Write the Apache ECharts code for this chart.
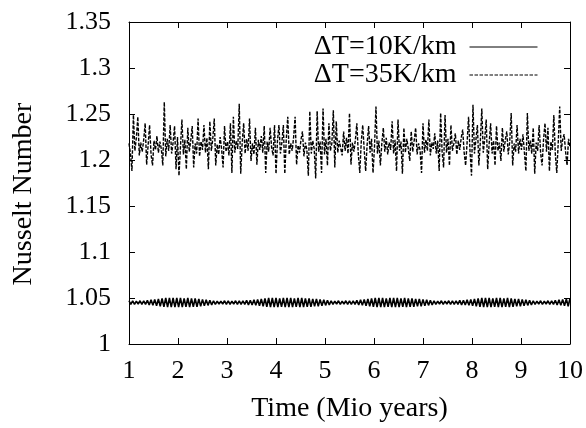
<!DOCTYPE html>
<html>
<head>
<meta charset="utf-8">
<style>
  html, body { margin: 0; padding: 0; background: #fff; }
  #chart { width: 586px; height: 428px; }
</style>
<script src="https://cdn.jsdelivr.net/npm/echarts@6/dist/echarts.min.js"></script>
</head>
<body>
<div id="chart"></div>
<script>
// time axis (Mio years), both runs sampled evenly from 1 to 10
const timeStart = 1
const timeEnd = 10

const seriesNames = ['ΔT=10K/km', 'ΔT=35K/km']

// Nusselt number, dT = 10 K/km (regular oscillation, beating amplitude)
const nu10 = [
  1.047,1.043,1.047,1.043,1.0465,1.0435,1.047,1.043,1.047,1.043,1.0475,1.0425,1.048,1.042,1.0485,1.0415,
  1.049,1.041,1.0495,1.0405,1.05,1.04,1.05,1.04,1.05,1.04,1.05,1.04,1.05,1.04,1.0495,1.0405,
  1.05,1.04,1.0495,1.0405,1.0495,1.0405,1.049,1.041,1.0485,1.0415,1.048,1.042,1.0475,1.0425,1.047,1.043,
  1.0465,1.0435,1.0465,1.0435,1.047,1.043,1.047,1.043,1.0465,1.0435,1.047,1.043,1.047,1.043,1.047,1.043,
  1.0475,1.0425,1.0475,1.0425,1.048,1.042,1.0485,1.0415,1.049,1.041,1.0495,1.0405,1.05,1.04,1.05,1.04,
  1.05,1.04,1.0495,1.0405,1.05,1.04,1.05,1.04,1.05,1.04,1.0495,1.0405,1.05,1.04,1.05,1.04,
  1.0495,1.0405,1.0495,1.0405,1.049,1.041,1.049,1.041,1.0485,1.0415,1.048,1.042,1.0475,1.0425,1.047,1.043,
  1.0465,1.0435,1.047,1.043,1.0465,1.0435,1.047,1.043,1.047,1.043,1.047,1.043,1.0475,1.0425,1.048,1.042,
  1.0485,1.0415,1.049,1.041,1.0495,1.0405,1.05,1.04,1.05,1.04,1.05,1.04,1.0495,1.0405,1.05,1.04,
  1.05,1.04,1.05,1.04,1.0495,1.0405,1.05,1.04,1.0495,1.0405,1.0495,1.0405,1.049,1.041,1.049,1.041,
  1.0485,1.0415,1.048,1.042,1.0475,1.0425,1.047,1.043,1.0465,1.0435,1.047,1.043,1.0465,1.0435,1.047,1.043,
  1.047,1.043,1.047,1.043,1.0475,1.0425,1.0475,1.0425,1.048,1.042,1.0485,1.0415,1.049,1.041,1.0495,1.0405,
  1.05,1.04,1.05,1.04,1.05,1.04,1.0495,1.0405,1.05,1.04,1.05,1.04,1.0495,1.0405,1.05,1.04,
  1.0495,1.0405,1.049,1.041,1.049,1.041,1.0485,1.0415,1.048,1.042,1.0475,1.0425,1.047,1.043,1.0465,1.0435,
  1.047,1.043,1.0465,1.0435,1.047,1.043,1.047,1.043,1.0475,1.0425,1.048,1.042,1.0485,1.0415,1.049,1.041,
  1.0495
]

// Nusselt number, dT = 35 K/km (irregular, spiky)
const nu35 = [
  1.218,1.207,1.188,1.249,1.210,1.224,1.247,1.205,1.219,1.209,
  1.222,1.240,1.195,1.216,1.238,1.206,1.194,1.221,1.211,1.226,
  1.208,1.220,1.212,1.194,1.263,1.204,1.223,1.210,1.238,1.207,
  1.219,1.237,1.190,1.225,1.183,1.214,1.244,1.206,1.222,1.190,
  1.235,1.209,1.221,1.237,1.192,1.218,1.207,1.245,1.204,1.220,
  1.211,1.238,1.208,1.224,1.190,1.242,1.210,1.223,1.245,1.194,
  1.217,1.206,1.225,1.212,1.192,1.237,1.209,1.220,1.205,1.240,
  1.186,1.247,1.208,1.221,1.212,1.261,1.185,1.219,1.240,1.207,
  1.223,1.210,1.245,1.199,1.218,1.206,1.235,1.195,1.222,1.211,
  1.226,1.208,1.237,1.186,1.220,1.209,1.235,1.214,1.205,1.238,
  1.185,1.221,1.238,1.207,1.219,1.238,1.185,1.223,1.247,1.206,
  1.218,1.210,1.225,1.247,1.195,1.216,1.208,1.222,1.231,1.204,
  1.219,1.211,1.183,1.253,1.207,1.221,1.212,1.180,1.253,1.209,
  1.220,1.186,1.256,1.206,1.223,1.194,1.240,1.210,1.218,1.254,
  1.192,1.242,1.208,1.221,1.213,1.205,1.231,1.210,1.224,1.207,
  1.251,1.195,1.219,1.209,1.222,1.240,1.206,1.186,1.220,1.238,
  1.211,1.188,1.217,1.237,1.208,1.223,1.186,1.214,1.258,1.207,
  1.221,1.194,1.218,1.235,1.209,1.224,1.206,1.219,1.211,1.242,
  1.207,1.222,1.188,1.244,1.210,1.220,1.185,1.235,1.208,1.223,
  1.212,1.199,1.231,1.209,1.221,1.235,1.206,1.218,1.211,1.186,
  1.240,1.208,1.222,1.210,1.244,1.205,1.219,1.212,1.229,1.207,
  1.221,1.188,1.251,1.209,1.192,1.249,1.208,1.223,1.194,1.238,
  1.210,1.218,1.229,1.206,1.221,1.211,1.224,1.233,1.208,1.194,
  1.219,1.247,1.209,1.183,1.260,1.207,1.222,1.238,1.194,1.220,
  1.256,1.208,1.223,1.244,1.190,1.218,1.240,1.207,1.221,1.194,
  1.237,1.210,1.219,1.199,1.235,1.209,1.222,1.231,1.206,1.220,
  1.251,1.194,1.218,1.209,1.238,1.207,1.223,1.211,1.228,1.208,
  1.188,1.251,1.210,1.221,1.207,1.235,1.185,1.219,1.210,1.238,
  1.208,1.194,1.222,1.240,1.209,1.235,1.188,1.220,1.211,1.249,
  1.207,1.186,1.219,1.258,1.210,1.222,1.228,1.209,1.194,1.223,
  1.214
]

const font = 'Liberation Serif'

// pair each value with its sample time
function withTime(values) {
  const step = (timeEnd - timeStart) / (values.length - 1)
  return values.map((v, i) => [timeStart + i * step, v])
}

const chart = echarts.init(document.getElementById('chart'))

const axisBase = {
  type: 'value',
  axisLine: { onZero: false, lineStyle: { color: '#000', width: 1 } },
  axisTick: { inside: true, length: 6, lineStyle: { color: '#000' } },
  splitLine: { show: false }
}

chart.setOption({
  animation: false,
  backgroundColor: '#fff',
  grid: { left: 129, right: 13, top: 22, bottom: 81 },
  legend: {
    orient: 'vertical',
    right: 43,
    top: 28,
    align: 'right',
    itemWidth: 68,
    itemHeight: 10,
    itemGap: 0,
    data: seriesNames,
    // hide the marker dot, keep only the sample line
    itemStyle: { color: 'rgba(0,0,0,0)', borderWidth: 0 },
    lineStyle: { width: 1 },
    textStyle: { fontFamily: font, fontSize: 28, color: '#000', lineHeight: 26, padding: [0, 8, 0, 0] }
  },
  xAxis: [
    Object.assign({}, axisBase, {
      min: timeStart, max: timeEnd, interval: 1, position: 'bottom',
      name: 'Time (Mio years)', nameLocation: 'middle', nameGap: 51,
      nameTextStyle: { fontFamily: font, fontSize: 28, color: '#000' },
      axisLabel: { margin: 14, color: '#000', fontFamily: font, fontSize: 26 }
    }),
    Object.assign({}, axisBase, {
      min: timeStart, max: timeEnd, interval: 1, position: 'top',
      axisLabel: { show: false }
    })
  ],
  yAxis: [
    Object.assign({}, axisBase, {
      min: 1, max: 1.35, interval: 0.05, position: 'left',
      name: 'Nusselt Number', nameLocation: 'middle', nameGap: 91, nameRotate: 90,
      nameTextStyle: { fontFamily: font, fontSize: 28, color: '#000', padding: [0, 22, 0, 0] },
      axisLabel: { margin: 18, color: '#000', fontFamily: font, fontSize: 26 }
    }),
    Object.assign({}, axisBase, {
      min: 1, max: 1.35, interval: 0.05, position: 'right',
      axisLabel: { show: false }
    })
  ],
  series: [
    {
      name: seriesNames[0],
      type: 'line',
      data: withTime(nu10),
      symbol: 'none',
      lineStyle: { color: '#000', width: 1.6 },
      itemStyle: { color: '#000' }
    },
    {
      name: seriesNames[1],
      type: 'line',
      data: withTime(nu35),
      symbol: 'none',
      lineStyle: { color: '#000', width: 1.4, type: [3.5, 1.5] },
      itemStyle: { color: '#000' }
    }
  ]
})
</script>
</body>
</html>
